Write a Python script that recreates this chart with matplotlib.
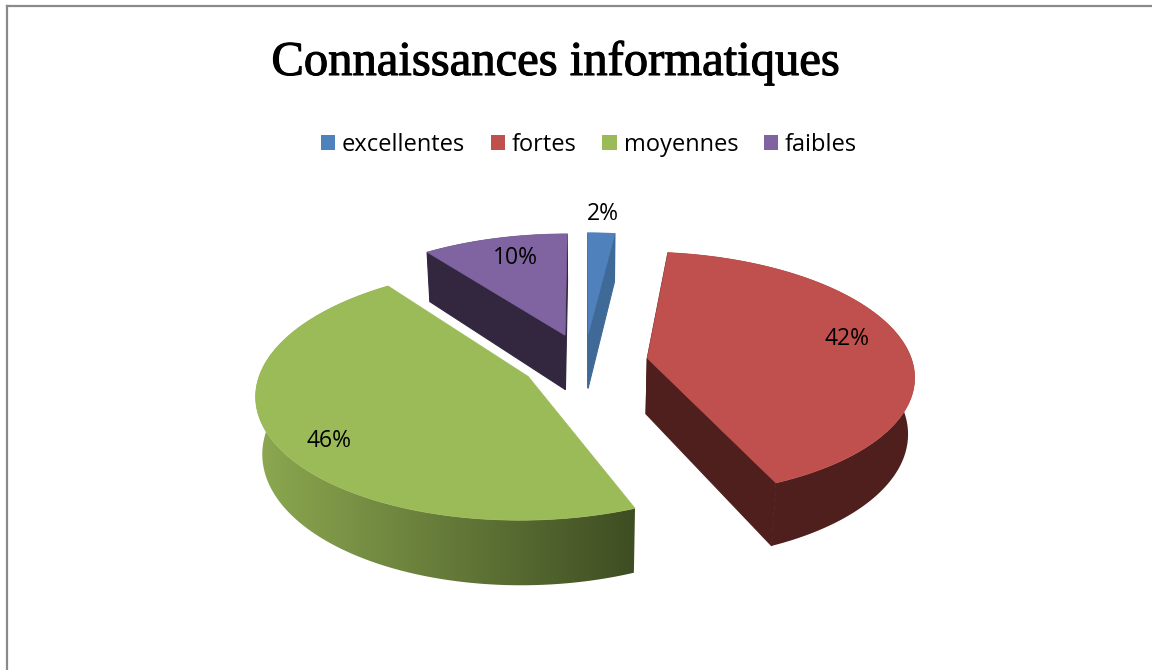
import numpy as np
import matplotlib
matplotlib.use("Agg")
import matplotlib.pyplot as plt
import matplotlib.patheffects as pe
from matplotlib.patches import Patch, Polygon
from matplotlib.colors import to_rgb

# Data (shares, labels as printed)
categories = ['excellentes', 'fortes', 'moyennes', 'faibles']
shares = [1.9, 42.0, 45.9, 10.2]
pct_labels = ['2%', '42%', '46%', '10%']
label_pos = [(603, 214), (847, 339), (329, 441), (515, 258)]

top_colors = ['#4f81bd', '#c0504d', '#9bbb59', '#8064a2']
side_left = ['#3f6997', '#4f1f1e', '#8ca850', '#33263f']
side_right = ['#3f6997', '#4f1f1e', '#3e4d22', '#33263f']

# Projection settings, in pixels of the 1152x670 picture
cx, cy = 584.5, 362
S, K, D = 265, 121, 56
p = 0.13
bottom_shrink = 0.02
explode = 0.24
end_trim = [0, 1.7, 0, 0]  # degrees, the source's perspective closes the red edge a bit


def project(X, Y, bottom=False):
    w = 1 + p * Y
    if bottom:
        depth = D / w ** 1.3
        w = w + bottom_shrink
        return cx + S * X / w, cy - K * Y / w + depth
    return cx + S * X / w, cy - K * Y / w


fig = plt.figure(figsize=(11.52, 6.70), dpi=100)
ax = fig.add_axes([0, 0, 1, 1])
ax.axis('off')

# Frame of the chart (top and left only are in the picture)
ax.plot([7, 1152], [6, 6], color='#8a8a8a', lw=1.6)
ax.plot([7, 7], [6, 670], color='#8a8a8a', lw=1.6)

start = 0.0
total = sum(shares)
z = 2
for i, val in enumerate(shares):
    sweep = 2 * np.pi * val / total
    mid = start + sweep / 2
    ox, oy = explode * np.sin(mid), explode * np.cos(mid)
    angles = np.linspace(start, start + sweep - np.radians(end_trim[i]), 120)
    rim_x = ox + np.sin(angles)
    rim_y = oy + np.cos(angles)

    # outer wall, one polygon filled with a left to right gradient
    top_rim = [project(x, y) for x, y in zip(rim_x, rim_y)]
    bottom_rim = [project(x, y, True) for x, y in zip(rim_x, rim_y)]
    wall = Polygon(top_rim + bottom_rim[::-1], closed=True, facecolor='none', edgecolor='none')
    ax.add_patch(wall)
    left, right = np.array(to_rgb(side_left[i])), np.array(to_rgb(side_right[i]))
    xs = np.linspace(0, 1152, 1152)
    steps = np.clip((xs - 258) / (636 - 258), 0, 1)[None, :, None]
    grad = left[None, None, :] + (right - left)[None, None, :] * steps
    im = ax.imshow(grad, extent=[0, 1152, 670, 0], aspect='auto', zorder=z)
    im.set_clip_path(wall)
    z += 1

    # the cut faces go over the wall so no seam shows, far one first
    cuts = []
    for a in (angles[0], angles[-1]):
        ex, ey = ox + np.sin(a), oy + np.cos(a)
        cuts.append((ey, [project(ox, oy), project(ex, ey),
                          project(ex, ey, True), project(ox, oy, True)]))
    cuts.sort(key=lambda c: -c[0])
    for n, (_, quad) in enumerate(cuts):
        # green's only cut face is hidden behind its top and wall
        if i == 2:
            continue
        c = side_right[i]
        ax.add_patch(Polygon(quad, closed=True, facecolor=c, edgecolor=c, lw=0.8, zorder=z))
        z += 1

    top_pts = [project(ox, oy)] + top_rim
    ax.add_patch(Polygon(top_pts, closed=True, facecolor=top_colors[i],
                         edgecolor=top_colors[i], lw=0.5, zorder=z))
    z += 1
    start += sweep

ax.set_xlim(0, 1152)
ax.set_ylim(670, 0)

for txt, (x, y) in zip(pct_labels, label_pos):
    ax.text(x, y, txt, ha='center', va='center', fontsize=16.5,
            family='Open Sans', color='black', zorder=z)

title = ax.text(556, 63, 'Connaissances informatiques', ha='center', va='center',
                fontsize=35, family='Liberation Serif', color='black', zorder=z)
title.set_path_effects([pe.withStroke(linewidth=0.8, foreground='black')])

handles = [Patch(facecolor=c, edgecolor='none') for c in top_colors]
fig.legend(handles, categories, ncol=4, frameon=False, loc='center',
           bbox_to_anchor=(589 / 1152, 1 - 145 / 670),
           prop={'family': 'Open Sans', 'size': 17},
           handlelength=0.6, handleheight=0.6, handletextpad=0.3,
           columnspacing=1.08)

fig.savefig('out.png', dpi=100)
